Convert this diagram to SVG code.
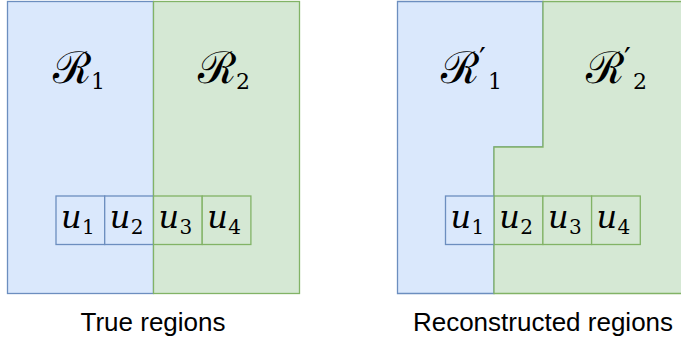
<svg xmlns="http://www.w3.org/2000/svg" width="681" height="341" viewBox="0 0 681 341">
<style>
.blue{fill:#dae8fc;stroke:#6c8ebf;stroke-width:1.3}
.green{fill:#d5e8d4;stroke:#82b366;stroke-width:1.3}
.R{font-family:"DejaVu Serif",serif;font-size:44px;fill:#000}
.s{font-family:"DejaVu Serif",serif;font-size:22px;fill:#000}
.p{font-family:"DejaVu Serif",serif;font-size:30px;fill:#000}
.u{font-family:"DejaVu Serif",serif;font-style:italic;font-size:32px;fill:#000}
.us{font-family:"DejaVu Serif",serif;font-size:20px;fill:#000}
.cap{font-family:"Liberation Sans",Arial,sans-serif;font-size:26px;fill:#000;text-anchor:middle}
</style>
<g id="left-panel">
  <g id="R1"><rect class="blue" x="7.5" y="1.5" width="146" height="292"/>
    <text class="R" x="53" y="83">ℛ</text><text class="s" x="91" y="89">1</text></g>
  <g id="R2"><rect class="green" x="153.5" y="1.5" width="146" height="292"/>
    <text class="R" x="198" y="83">ℛ</text><text class="s" x="236" y="89">2</text></g>
  <g id="L-u1"><rect class="blue" x="56" y="196" width="48.7" height="48.5"/>
    <text class="u" x="61" y="228">u</text><text class="us" x="82" y="234">1</text></g>
  <g id="L-u2"><rect class="blue" x="104.7" y="196" width="48.7" height="48.5"/>
    <text class="u" x="109.7" y="228">u</text><text class="us" x="130.7" y="234">2</text></g>
  <g id="L-u3"><rect class="green" x="153.5" y="196" width="48.7" height="48.5"/>
    <text class="u" x="158.5" y="228">u</text><text class="us" x="179.5" y="234">3</text></g>
  <g id="L-u4"><rect class="green" x="202.2" y="196" width="48.7" height="48.5"/>
    <text class="u" x="207.2" y="228">u</text><text class="us" x="228.2" y="234">4</text></g>
  <text class="cap" x="153" y="331">True regions</text>
</g>
<g id="right-panel">
  <g id="R1p"><polygon class="blue" points="397.5,1.5 543,1.5 543,147 494,147 494,293.5 397.5,293.5"/>
    <text class="R" x="441" y="83">ℛ</text><text class="p" x="479" y="69">′</text><text class="s" x="488" y="89">1</text></g>
  <g id="R2p"><polygon class="green" points="543,1.5 690,1.5 690,293.5 494,293.5 494,147 543,147"/>
    <text class="R" x="586" y="83">ℛ</text><text class="p" x="624" y="69">′</text><text class="s" x="633" y="89">2</text></g>
  <g id="R-u1"><rect class="blue" x="445.5" y="196" width="48.7" height="48.5"/>
    <text class="u" x="450.5" y="228">u</text><text class="us" x="471.5" y="234">1</text></g>
  <g id="R-u2"><rect class="green" x="494.2" y="196" width="48.7" height="48.5"/>
    <text class="u" x="499.2" y="228">u</text><text class="us" x="520.2" y="234">2</text></g>
  <g id="R-u3"><rect class="green" x="542.9" y="196" width="48.7" height="48.5"/>
    <text class="u" x="547.9" y="228">u</text><text class="us" x="568.9" y="234">3</text></g>
  <g id="R-u4"><rect class="green" x="591.6" y="196" width="48.7" height="48.5"/>
    <text class="u" x="596.6" y="228">u</text><text class="us" x="617.6" y="234">4</text></g>
  <text class="cap" x="543" y="331">Reconstructed regions</text>
</g>
<g id="connectors"/>
</svg>
